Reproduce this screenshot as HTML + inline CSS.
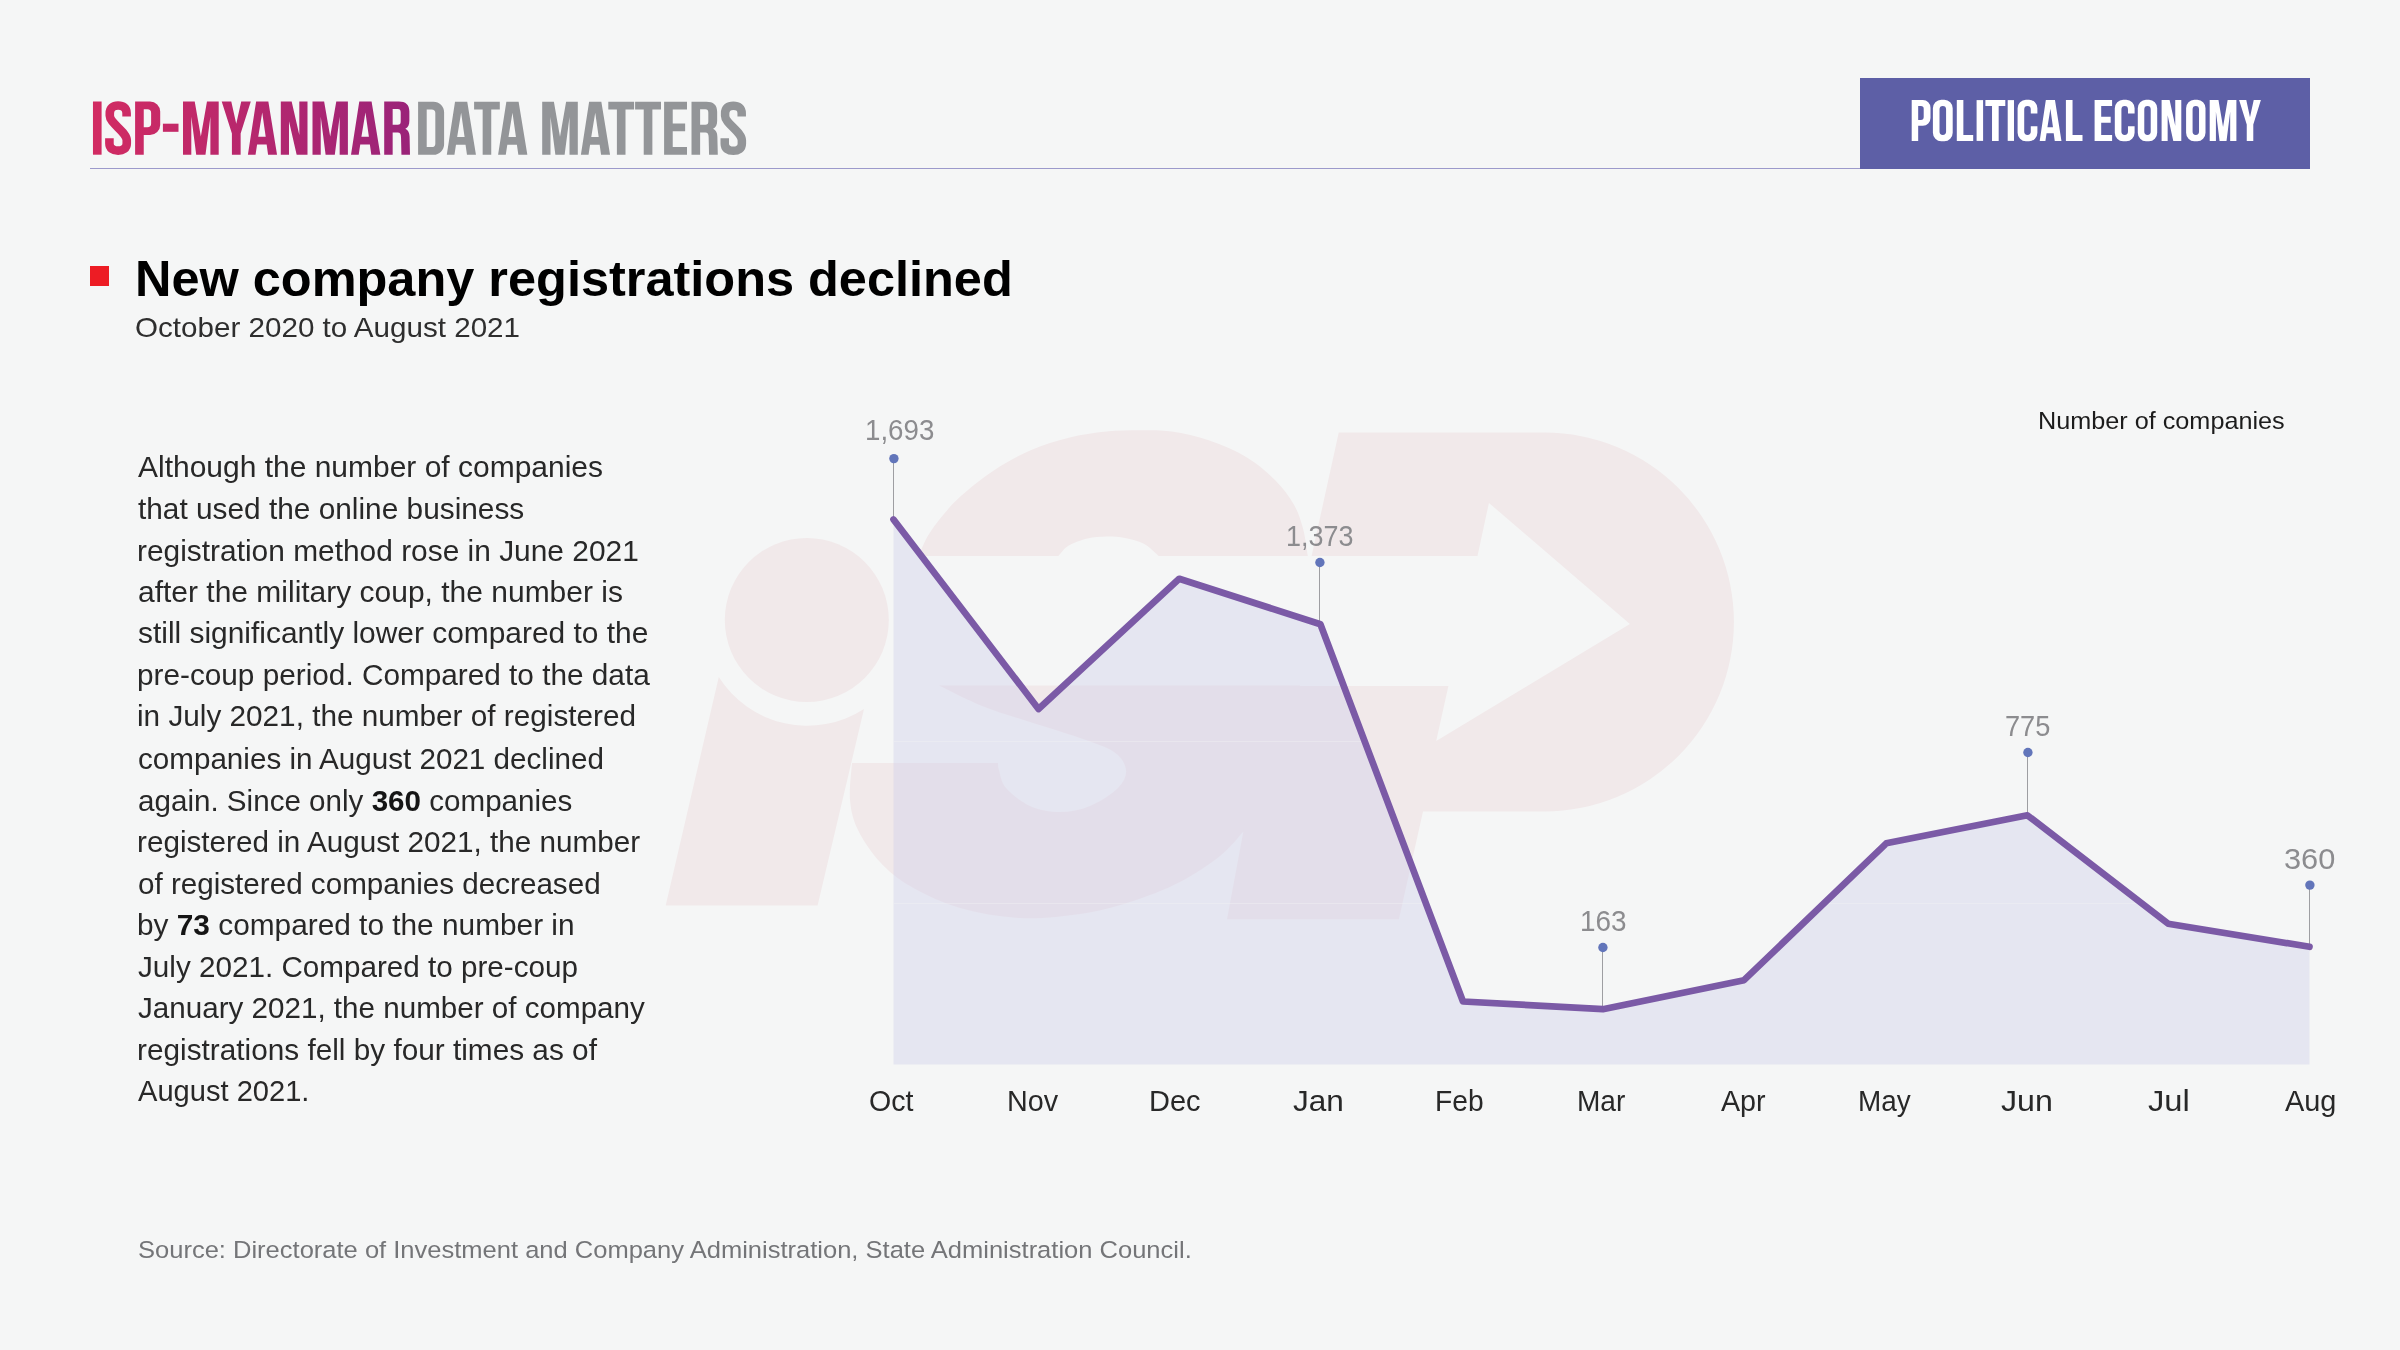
<!DOCTYPE html>
    <html><head><meta charset="utf-8"><title>New company registrations declined</title>
    <style>
    html,body{margin:0;padding:0;}
    body{width:2400px;height:1350px;background:#F5F6F6;position:relative;overflow:hidden;font-family:"Liberation Sans",sans-serif;}
    .t{position:absolute;white-space:nowrap;line-height:1;transform-origin:0 0;font-family:"Liberation Sans",sans-serif;}
    .t b{font-weight:700;color:#151515;}
    .rule{position:absolute;left:90px;top:167.7px;width:1771px;height:1.2px;background:#9C9ACB;}
    .badgebox{position:absolute;left:1860px;top:77.8px;width:450px;height:90.8px;background:#5D5FA6;}
    .sq{position:absolute;left:90px;top:266.2px;width:18.5px;height:20.3px;background:#ED1C24;}
    </style></head><body>
    <svg width="2400" height="1350" viewBox="0 0 2400 1350" style="position:absolute;left:0;top:0">

<g fill="#F1E9EA">
 <circle cx="806.8" cy="620" r="82"/>
 <path d="M718.8,677 A104.5,104.5 0 0 0 864,709 L817.6,905.4 L665.7,905.4 Z"/>
 <path d="M918.75,556C920.6,552.1 923.8,541.7 930.0,532.5C936.2,523.3 945.6,510.9 956.2,500.6C966.9,490.3 981.2,479.0 993.8,470.6C1006.2,462.2 1018.8,455.5 1031.2,450.0C1043.8,444.5 1056.2,440.9 1068.8,437.8C1081.2,434.7 1094.4,432.9 1106.2,431.6C1118.1,430.4 1129.1,430.3 1140.0,430.3C1150.9,430.3 1160.3,429.9 1171.9,431.6C1183.5,433.3 1196.9,436.3 1209.4,440.6C1221.9,444.9 1236.0,450.9 1246.9,457.5C1257.8,464.1 1267.2,472.2 1275.0,480.0C1282.8,487.8 1289.1,496.3 1293.8,504.4C1298.4,512.5 1300.8,520.1 1303.1,528.8C1305.4,537.4 1307.0,551.5 1307.8,556.0L1158.75,556C1156.2,554.0 1149.4,546.7 1143.8,543.8C1138.1,540.8 1131.2,539.3 1125.0,538.1C1118.8,536.9 1112.5,536.5 1106.2,536.6C1100.0,536.7 1093.8,537.0 1087.5,538.5C1081.2,540.0 1073.6,542.7 1068.8,545.6C1063.9,548.5 1060.1,554.3 1058.4,556.0Z"/>
 <path d="M939,685.6C946.2,689.0 966.8,699.9 982.0,706.0C997.2,712.1 1013.7,716.7 1030.0,722.0C1046.3,727.3 1066.0,733.0 1080.0,738.0C1094.0,743.0 1106.3,746.7 1114.0,752.0C1121.7,757.3 1125.3,764.0 1126.0,770.0C1126.7,776.0 1124.0,782.0 1118.0,788.0C1112.0,794.0 1099.7,802.0 1090.0,806.0C1080.3,810.0 1070.0,812.0 1060.0,812.0C1050.0,812.0 1039.0,810.0 1030.0,806.0C1021.0,802.0 1011.2,794.0 1006.0,788.0C1000.8,782.0 1000.3,774.2 999.0,770.0C997.7,765.8 998.2,764.2 998.0,763.0L852,763C851.7,769.2 849.0,788.8 850.0,800.0C851.0,811.2 853.0,819.7 858.0,830.0C863.0,840.3 871.3,852.7 880.0,862.0C888.7,871.3 896.7,878.3 910.0,886.0C923.3,893.7 941.7,902.7 960.0,908.0C978.3,913.3 1000.0,917.0 1020.0,918.0C1040.0,919.0 1061.7,916.7 1080.0,914.0C1098.3,911.3 1113.3,907.3 1130.0,902.0C1146.7,896.7 1165.0,889.7 1180.0,882.0C1195.0,874.3 1209.5,864.3 1220.0,856.0C1230.5,847.7 1239.2,836.0 1243.0,832.0L1262,832L1300,685.6Z"/>
 <path d="M1338.75,432.6 L1544.5,432.6 A189.4,189.4 0 0 1 1544.5,811.4 L1423,811.4 L1398.9,919.2 L1227,919.2 L1270.5,686 L1448.4,686 L1436.2,741 L1629.9,624 L1488.9,502.9 L1477.5,556 L1311.6,556 Z"/>
</g>
<defs><clipPath id="ac"><polygon points="893.5,1064.6 893.5,519.5 1038.5,709 1179.2,578.8 1320.4,624.2 1463,1001.5 1602.9,1009.2 1744,980.2 1886.3,843.3 2027.4,815.3 2168.1,923.7 2309.5,946.8 2309.5,1064.6"/></clipPath></defs>
<polygon points="893.5,1064.6 893.5,519.5 1038.5,709 1179.2,578.8 1320.4,624.2 1463,1001.5 1602.9,1009.2 1744,980.2 1886.3,843.3 2027.4,815.3 2168.1,923.7 2309.5,946.8 2309.5,1064.6" fill="#D1D0EA" fill-opacity="0.43"/>
<g clip-path="url(#ac)"><line x1="893.5" y1="741.5" x2="2309.5" y2="741.5" stroke="#F5F6F6" stroke-opacity="0.33" stroke-width="1"/><line x1="893.5" y1="903.5" x2="2309.5" y2="903.5" stroke="#F5F6F6" stroke-opacity="0.33" stroke-width="1"/></g>
<line x1="893.5" y1="458.6" x2="893.5" y2="519.5" stroke="#9E9EA2" stroke-width="1"/><circle cx="893.9" cy="458.6" r="4.7" fill="#6275BA"/><line x1="1319.5" y1="562.5" x2="1319.5" y2="624.2" stroke="#9E9EA2" stroke-width="1"/><circle cx="1319.9" cy="562.5" r="4.7" fill="#6275BA"/><line x1="1602.5" y1="947.5" x2="1602.5" y2="1009.2" stroke="#9E9EA2" stroke-width="1"/><circle cx="1602.9" cy="947.5" r="4.7" fill="#6275BA"/><line x1="2027.5" y1="752.5" x2="2027.5" y2="815.3" stroke="#9E9EA2" stroke-width="1"/><circle cx="2027.9" cy="752.5" r="4.7" fill="#6275BA"/><line x1="2309.5" y1="885.1" x2="2309.5" y2="946.8" stroke="#9E9EA2" stroke-width="1"/><circle cx="2309.9" cy="885.1" r="4.7" fill="#6275BA"/>
<polyline points="893.5,519.5 1038.5,709 1179.2,578.8 1320.4,624.2 1463,1001.5 1602.9,1009.2 1744,980.2 1886.3,843.3 2027.4,815.3 2168.1,923.7 2309.5,946.8" fill="none" stroke="#7B5AA6" stroke-width="6.7" stroke-linejoin="round" stroke-linecap="round"/>
</svg>
    <div class="rule"></div>
    <div class="badgebox"></div>
    <div class="sq"></div>
<svg width="2400" height="200" viewBox="0 0 2400 200" style="position:absolute;left:0;top:0"><defs><linearGradient id="hg" gradientUnits="userSpaceOnUse" x1="93" y1="0" x2="410" y2="0"><stop offset="0" stop-color="#D22B62"/><stop offset="1" stop-color="#9A2379"/></linearGradient><mask id="h1m" maskUnits="userSpaceOnUse" x="80" y="90" width="340" height="80"><path transform="translate(92.96,101.50) scale(0.5333,0.5320)" d="M0,0H16.2V100H0Z" fill="#fff" fill-rule="evenodd"/><path transform="translate(105.00,101.50) scale(0.5319,0.5320)" d="M40.6,28V22C40.6,12 34,7.6 24.6,7.6C15,7.6 9,12 9,22V27C9,41 40.9,57 40.9,73V79C40.9,88 34,92.4 24.6,92.4C15,92.4 8.3,88 8.3,79V69" fill="none" stroke="#fff" stroke-width="16.2" stroke-linejoin="round"/><path transform="translate(135.10,101.50) scale(0.5340,0.5320)" d="M0,0H28A19,19 0 0 1 47,19V44A19,19 0 0 1 28,63H16.2V100H0ZM16.2,14.5H23A7,7 0 0 1 30,21.5V41.5A7,7 0 0 1 23,48.5H16.2Z" fill="#fff" fill-rule="evenodd"/><path transform="translate(162.90,101.50) scale(0.5324,0.5320)" d="M0,41.7H29.3V57H0Z" fill="#fff" fill-rule="evenodd"/><path transform="translate(183.00,101.50) scale(0.5328,0.5320)" d="M0,0L22,0L33.5,66L45,0L67,0L67,100L51.4,100L51.4,28.6L42.2,100L24.8,100L15.6,28.6L15.6,100L0,100Z" fill="#fff" fill-rule="evenodd"/><path transform="translate(221.70,101.50) scale(0.5320,0.5320)" d="M0,0L18,0L27.35,42L36.7,0L54.7,0L35.6,60L35.6,100L19.2,100L19.2,60Z" fill="#fff" fill-rule="evenodd"/><path transform="translate(247.90,101.50) scale(0.5309,0.5320)" d="M15.5,0H38.5L54.9,100H38L35.3,81H17.3L14.4,100H0ZM27,20.9L33.5,66.3H19.5Z" fill="#fff" fill-rule="evenodd"/><path transform="translate(280.80,101.50) scale(0.5319,0.5320)" d="M0,0L20.4,0L34.800000000000004,63L34.800000000000004,0L50.2,0L50.2,100L29.800000000000004,100L15.4,37L15.4,100L0,100Z" fill="#fff" fill-rule="evenodd"/><path transform="translate(312.50,101.50) scale(0.5284,0.5320)" d="M0,0L22,0L33.5,66L45,0L67,0L67,100L51.4,100L51.4,28.6L42.2,100L24.8,100L15.6,28.6L15.6,100L0,100Z" fill="#fff" fill-rule="evenodd"/><path transform="translate(351.00,101.50) scale(0.5345,0.5320)" d="M15.5,0H38.5L54.9,100H38L35.3,81H17.3L14.4,100H0ZM27,20.9L33.5,66.3H19.5Z" fill="#fff" fill-rule="evenodd"/><path transform="translate(384.20,101.50) scale(0.5223,0.5320)" d="M0,0H28C41,0 48.2,6 48.2,19V36C48.2,44 46,48.5 40.5,51C46,53.5 48.4,58 48.6,66L49.4,100H33L32.2,67C32.2,60.5 30,58.2 26,58.2H16.2V100H0ZM16.2,14.2H26C30,14.2 31.6,16 31.6,21V37C31.6,42 30,43.6 26,43.6H16.2Z" fill="#fff" fill-rule="evenodd"/></mask></defs><rect x="80" y="90" width="340" height="80" fill="url(#hg)" mask="url(#h1m)"/><path transform="translate(418.10,101.70) scale(0.5317,0.5310)" d="M0,0H28.9A20,20 0 0 1 48.9,20V80A20,20 0 0 1 28.9,100H0ZM16.2,14.5H25.400000000000006A7,7 0 0 1 32.400000000000006,21.5V78.5A7,7 0 0 1 25.400000000000006,85.5H16.2Z" fill="#939598" fill-rule="evenodd"/><path transform="translate(446.80,101.70) scale(0.5309,0.5310)" d="M15.5,0H38.5L54.9,100H38L35.3,81H17.3L14.4,100H0ZM27,20.9L33.5,66.3H19.5Z" fill="#939598" fill-rule="evenodd"/><path transform="translate(474.10,101.70) scale(0.5299,0.5310)" d="M0,0H48.5V14.5H32.35V100H16.15V14.5H0Z" fill="#939598" fill-rule="evenodd"/><path transform="translate(498.10,101.70) scale(0.5327,0.5310)" d="M15.5,0H38.5L54.9,100H38L35.3,81H17.3L14.4,100H0ZM27,20.9L33.5,66.3H19.5Z" fill="#939598" fill-rule="evenodd"/><path transform="translate(542.20,101.70) scale(0.5313,0.5310)" d="M0,0L22,0L33.5,66L45,0L67,0L67,100L51.4,100L51.4,28.6L42.2,100L24.8,100L15.6,28.6L15.6,100L0,100Z" fill="#939598" fill-rule="evenodd"/><path transform="translate(580.90,101.70) scale(0.5309,0.5310)" d="M15.5,0H38.5L54.9,100H38L35.3,81H17.3L14.4,100H0ZM27,20.9L33.5,66.3H19.5Z" fill="#939598" fill-rule="evenodd"/><path transform="translate(608.30,101.70) scale(0.5320,0.5310)" d="M0,0H48.5V14.5H32.35V100H16.15V14.5H0Z" fill="#939598" fill-rule="evenodd"/><path transform="translate(635.10,101.70) scale(0.5340,0.5310)" d="M0,0H48.5V14.5H32.35V100H16.15V14.5H0Z" fill="#939598" fill-rule="evenodd"/><path transform="translate(664.10,101.70) scale(0.5326,0.5310)" d="M0,0H43V14.5H16.2V41H39.5V55.5H16.2V85.5H43V100H0Z" fill="#939598" fill-rule="evenodd"/><path transform="translate(691.50,101.70) scale(0.5324,0.5310)" d="M0,0H28C41,0 48.2,6 48.2,19V36C48.2,44 46,48.5 40.5,51C46,53.5 48.4,58 48.6,66L49.4,100H33L32.2,67C32.2,60.5 30,58.2 26,58.2H16.2V100H0ZM16.2,14.2H26C30,14.2 31.6,16 31.6,21V37C31.6,42 30,43.6 26,43.6H16.2Z" fill="#939598" fill-rule="evenodd"/><path transform="translate(720.40,101.70) scale(0.5247,0.5310)" d="M40.6,28V22C40.6,12 34,7.6 24.6,7.6C15,7.6 9,12 9,22V27C9,41 40.9,57 40.9,73V79C40.9,88 34,92.4 24.6,92.4C15,92.4 8.3,88 8.3,79V69" fill="none" stroke="#939598" stroke-width="16.2" stroke-linejoin="round"/><path transform="translate(1911.70,100.10) scale(0.4000,0.4080)" d="M0,0H28A19,19 0 0 1 47,19V44A19,19 0 0 1 28,63H16.2V100H0ZM16.2,14.5H23A7,7 0 0 1 30,21.5V41.5A7,7 0 0 1 23,48.5H16.2Z" fill="#fff" fill-rule="evenodd"/><path transform="translate(1932.90,100.10) scale(0.4082,0.4080)" d="M0,20.2A20.5,21 0 0 1 20.5,-0.8H28.0A20.5,21 0 0 1 48.5,20.2V79.8A20.5,21 0 0 1 28.0,100.8H20.5A20.5,21 0 0 1 0,79.8ZM16.2,23.0A8.05,8.5 0 0 1 32.3,23.0V77.0A8.05,8.5 0 0 1 16.2,77.0Z" fill="#fff" fill-rule="evenodd"/><path transform="translate(1956.80,100.10) scale(0.4049,0.4080)" d="M0,0H16.2V85.5H40.5V100H0Z" fill="#fff" fill-rule="evenodd"/><path transform="translate(1976.60,100.10) scale(0.4012,0.4080)" d="M0,0H16.2V100H0Z" fill="#fff" fill-rule="evenodd"/><path transform="translate(1985.40,100.10) scale(0.4103,0.4080)" d="M0,0H48.5V14.5H32.35V100H16.15V14.5H0Z" fill="#fff" fill-rule="evenodd"/><path transform="translate(2007.70,100.10) scale(0.3889,0.4080)" d="M0,0H16.2V100H0Z" fill="#fff" fill-rule="evenodd"/><path transform="translate(2017.60,100.10) scale(0.4082,0.4080)" d="M48.5,33L48.5,20.2A20.5,21 0 0 0 28.0,-0.8L20.5,-0.8A20.5,21 0 0 0 0,20.2L0,79.8A20.5,21 0 0 0 20.5,100.8L28.0,100.8A20.5,21 0 0 0 48.5,79.8L48.5,64L32.3,64L32.3,77.0A8.05,8.5 0 0 1 16.2,77.0L16.2,23.0A8.05,8.5 0 0 1 32.3,23.0L32.3,33Z" fill="#fff" fill-rule="evenodd"/><path transform="translate(2039.70,100.10) scale(0.3964,0.4080)" d="M15.5,0H38.5L54.9,100H38L35.3,81H17.3L14.4,100H0ZM27,20.9L33.5,66.3H19.5Z" fill="#fff" fill-rule="evenodd"/><path transform="translate(2065.90,100.10) scale(0.4099,0.4080)" d="M0,0H16.2V85.5H40.5V100H0Z" fill="#fff" fill-rule="evenodd"/><path transform="translate(2094.60,100.10) scale(0.4070,0.4080)" d="M0,0H43V14.5H16.2V41H39.5V55.5H16.2V85.5H43V100H0Z" fill="#fff" fill-rule="evenodd"/><path transform="translate(2114.80,100.10) scale(0.4082,0.4080)" d="M48.5,33L48.5,20.2A20.5,21 0 0 0 28.0,-0.8L20.5,-0.8A20.5,21 0 0 0 0,20.2L0,79.8A20.5,21 0 0 0 20.5,100.8L28.0,100.8A20.5,21 0 0 0 48.5,79.8L48.5,64L32.3,64L32.3,77.0A8.05,8.5 0 0 1 16.2,77.0L16.2,23.0A8.05,8.5 0 0 1 32.3,23.0L32.3,33Z" fill="#fff" fill-rule="evenodd"/><path transform="translate(2137.80,100.10) scale(0.4000,0.4080)" d="M0,20.2A20.5,21 0 0 1 20.5,-0.8H28.0A20.5,21 0 0 1 48.5,20.2V79.8A20.5,21 0 0 1 28.0,100.8H20.5A20.5,21 0 0 1 0,79.8ZM16.2,23.0A8.05,8.5 0 0 1 32.3,23.0V77.0A8.05,8.5 0 0 1 16.2,77.0Z" fill="#fff" fill-rule="evenodd"/><path transform="translate(2161.60,100.10) scale(0.3924,0.4080)" d="M0,0L20.4,0L34.800000000000004,63L34.800000000000004,0L50.2,0L50.2,100L29.800000000000004,100L15.4,37L15.4,100L0,100Z" fill="#fff" fill-rule="evenodd"/><path transform="translate(2186.10,100.10) scale(0.4000,0.4080)" d="M0,20.2A20.5,21 0 0 1 20.5,-0.8H28.0A20.5,21 0 0 1 48.5,20.2V79.8A20.5,21 0 0 1 28.0,100.8H20.5A20.5,21 0 0 1 0,79.8ZM16.2,23.0A8.05,8.5 0 0 1 32.3,23.0V77.0A8.05,8.5 0 0 1 16.2,77.0Z" fill="#fff" fill-rule="evenodd"/><path transform="translate(2209.70,100.10) scale(0.3985,0.4080)" d="M0,0L22,0L33.5,66L45,0L67,0L67,100L51.4,100L51.4,28.6L42.2,100L24.8,100L15.6,28.6L15.6,100L0,100Z" fill="#fff" fill-rule="evenodd"/><path transform="translate(2239.10,100.10) scale(0.3985,0.4080)" d="M0,0L18,0L27.35,42L36.7,0L54.7,0L35.6,60L35.6,100L19.2,100L19.2,60Z" fill="#fff" fill-rule="evenodd"/></svg>
    <div class="t" style="left:135.36px;top:254.02px;font-size:50.1px;font-weight:700;transform:scaleX(1.0074);color:#000;">New company registrations declined</div>
<div class="t" style="left:134.96px;top:313.44px;font-size:28.3px;font-weight:400;transform:scaleX(1.0459);color:#2e2e2e;">October 2020 to August 2021</div>
<div class="t" style="left:2037.66px;top:409.43px;font-size:24.2px;font-weight:400;transform:scaleX(1.0426);color:#1c1c1c;">Number of companies</div>
<div class="t" style="left:137.72px;top:1238.48px;font-size:23.9px;font-weight:400;transform:scaleX(1.0680);color:#747578;">Source: Directorate of Investment and Company Administration, State Administration Council.</div>
<div class="t" style="left:138.35px;top:451.60px;font-size:30.0px;font-weight:400;transform:scaleX(0.9993);color:#282828;">Although the number of companies</div>
<div class="t" style="left:138.36px;top:493.60px;font-size:30.0px;font-weight:400;transform:scaleX(0.9939);color:#282828;">that used the online business</div>
<div class="t" style="left:137.15px;top:535.50px;font-size:30.0px;font-weight:400;transform:scaleX(0.9963);color:#282828;">registration method rose in June 2021</div>
<div class="t" style="left:138.06px;top:576.50px;font-size:30.0px;font-weight:400;transform:scaleX(0.9994);color:#282828;">after the military coup, the number is</div>
<div class="t" style="left:138.06px;top:618.30px;font-size:30.0px;font-weight:400;transform:scaleX(0.9969);color:#282828;">still significantly lower compared to the</div>
<div class="t" style="left:137.32px;top:660.30px;font-size:30.0px;font-weight:400;transform:scaleX(0.9917);color:#282828;">pre-coup period. Compared to the data</div>
<div class="t" style="left:137.23px;top:701.40px;font-size:30.0px;font-weight:400;transform:scaleX(0.9908);color:#282828;">in July 2021, the number of registered</div>
<div class="t" style="left:138.26px;top:743.50px;font-size:30.0px;font-weight:400;transform:scaleX(0.9870);color:#282828;">companies in August 2021 declined</div>
<div class="t" style="left:137.86px;top:785.50px;font-size:30.0px;font-weight:400;transform:scaleX(0.9865);color:#282828;">again. Since only <b>360</b> companies</div>
<div class="t" style="left:137.20px;top:826.50px;font-size:30.0px;font-weight:400;transform:scaleX(0.9890);color:#282828;">registered in August 2021, the number</div>
<div class="t" style="left:138.19px;top:868.50px;font-size:30.0px;font-weight:400;transform:scaleX(0.9872);color:#282828;">of registered companies decreased</div>
<div class="t" style="left:137.09px;top:909.50px;font-size:30.0px;font-weight:400;transform:scaleX(0.9938);color:#282828;">by <b>73</b> compared to the number in</div>
<div class="t" style="left:138.34px;top:951.50px;font-size:30.0px;font-weight:400;transform:scaleX(0.9882);color:#282828;">July 2021. Compared to pre-coup</div>
<div class="t" style="left:138.35px;top:993.10px;font-size:30.0px;font-weight:400;transform:scaleX(0.9867);color:#282828;">January 2021, the number of company</div>
<div class="t" style="left:137.16px;top:1034.50px;font-size:30.0px;font-weight:400;transform:scaleX(0.9922);color:#282828;">registrations fell by four times as of</div>
<div class="t" style="left:138.37px;top:1076.20px;font-size:30.0px;font-weight:400;transform:scaleX(0.9696);color:#282828;">August 2021.</div>
<div class="t" style="left:869.32px;top:1086.01px;font-size:29.4px;font-weight:400;transform:scaleX(0.9718);color:#282828;">Oct</div>
<div class="t" style="left:1007.38px;top:1086.01px;font-size:29.4px;font-weight:400;transform:scaleX(0.9782);color:#282828;">Nov</div>
<div class="t" style="left:1149.35px;top:1086.01px;font-size:29.4px;font-weight:400;transform:scaleX(0.9868);color:#282828;">Dec</div>
<div class="t" style="left:1292.84px;top:1086.01px;font-size:29.4px;font-weight:400;transform:scaleX(1.0732);color:#282828;">Jan</div>
<div class="t" style="left:1434.79px;top:1086.01px;font-size:29.4px;font-weight:400;transform:scaleX(0.9587);color:#282828;">Feb</div>
<div class="t" style="left:1576.69px;top:1086.01px;font-size:29.4px;font-weight:400;transform:scaleX(0.9537);color:#282828;">Mar</div>
<div class="t" style="left:1721.37px;top:1086.01px;font-size:29.4px;font-weight:400;transform:scaleX(0.9753);color:#282828;">Apr</div>
<div class="t" style="left:1857.73px;top:1086.01px;font-size:29.4px;font-weight:400;transform:scaleX(0.9487);color:#282828;">May</div>
<div class="t" style="left:2000.52px;top:1086.01px;font-size:29.4px;font-weight:400;transform:scaleX(1.0938);color:#282828;">Jun</div>
<div class="t" style="left:2148.19px;top:1086.01px;font-size:29.4px;font-weight:400;transform:scaleX(1.1136);color:#282828;">Jul</div>
<div class="t" style="left:2284.76px;top:1086.01px;font-size:29.4px;font-weight:400;transform:scaleX(0.9831);color:#282828;">Aug</div>
<div class="t" style="left:864.59px;top:416.05px;font-size:29.0px;font-weight:400;transform:scaleX(0.9548);color:#8C8C8F;">1,693</div>
<div class="t" style="left:1285.61px;top:520.80px;font-size:29.3px;font-weight:400;transform:scaleX(0.9204);color:#8C8C8F;">1,373</div>
<div class="t" style="left:1579.58px;top:905.81px;font-size:29.4px;font-weight:400;transform:scaleX(0.9490);color:#8C8C8F;">163</div>
<div class="t" style="left:2005.30px;top:710.61px;font-size:29.4px;font-weight:400;transform:scaleX(0.9249);color:#8C8C8F;">775</div>
<div class="t" style="left:2283.77px;top:843.81px;font-size:29.4px;font-weight:400;transform:scaleX(1.0467);color:#8C8C8F;">360</div>
    </body></html>
